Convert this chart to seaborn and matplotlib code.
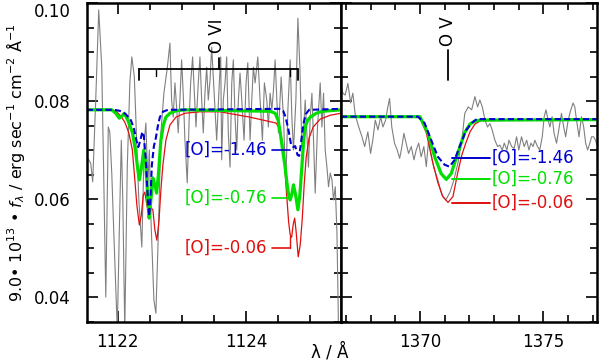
import matplotlib
matplotlib.use("Agg")
import matplotlib.pyplot as plt
import matplotlib.transforms as mtransforms
import seaborn as sns
from matplotlib.ticker import MultipleLocator

# ---- observed spectrum, O VI region ----
obs1_wl = [1121.516, 1121.547, 1121.578, 1121.609, 1121.656, 1121.703, 1121.750, 1121.781,
           1121.813, 1121.852, 1121.875, 1121.906, 1121.938, 1121.992, 1122.023, 1122.055,
           1122.078, 1122.109, 1122.148, 1122.188, 1122.219, 1122.258, 1122.281, 1122.328,
           1122.375, 1122.414, 1122.438, 1122.469, 1122.492, 1122.516, 1122.563, 1122.594,
           1122.633, 1122.672, 1122.719, 1122.773, 1122.813, 1122.839, 1122.864, 1122.891,
           1122.917, 1122.942, 1122.969, 1122.995, 1123.020, 1123.047, 1123.083, 1123.114,
           1123.136, 1123.167, 1123.198, 1123.219, 1123.255, 1123.281, 1123.308, 1123.333,
           1123.359, 1123.386, 1123.411, 1123.438, 1123.464, 1123.489, 1123.516, 1123.542,
           1123.583, 1123.605, 1123.620, 1123.645, 1123.672, 1123.698, 1123.723, 1123.750,
           1123.777, 1123.802, 1123.828, 1123.855, 1123.880, 1123.906, 1123.933, 1123.969,
           1124.000, 1124.027, 1124.063, 1124.089, 1124.114, 1124.141, 1124.183, 1124.219,
           1124.255, 1124.286, 1124.323, 1124.348, 1124.375, 1124.402, 1124.427, 1124.453,
           1124.480, 1124.505, 1124.547, 1124.583, 1124.620, 1124.652, 1124.688, 1124.714,
           1124.739, 1124.777, 1124.808, 1124.839, 1124.870, 1124.895, 1124.922, 1124.948,
           1124.973, 1125.000, 1125.027, 1125.052, 1125.078, 1125.114, 1125.156, 1125.183,
           1125.208, 1125.234, 1125.261, 1125.286, 1125.313, 1125.339, 1125.364, 1125.391,
           1125.417, 1125.442]
obs1_flux = [0.0686, 0.0680, 0.0673, 0.0635, 0.0802, 0.0986, 0.0869, 0.0645,
             0.0400, 0.0747, 0.0737, 0.0653, 0.0531, 0.0333, 0.0531, 0.0720,
             0.0598, 0.0333, 0.0665, 0.0837, 0.0890, 0.0849, 0.0767, 0.0598,
             0.0502, 0.0720, 0.0755, 0.0633, 0.0700, 0.0563, 0.0394, 0.0367,
             0.0531, 0.0735, 0.0816, 0.0869, 0.0918, 0.0802, 0.0767, 0.0837,
             0.0788, 0.0735, 0.0802, 0.0884, 0.0816, 0.0720, 0.0633, 0.0767,
             0.0837, 0.0890, 0.0802, 0.0747, 0.0837, 0.0890, 0.0802, 0.0735,
             0.0816, 0.0869, 0.0802, 0.0843, 0.0910, 0.0849, 0.0782, 0.0720,
             0.0837, 0.0890, 0.0680, 0.0802, 0.0837, 0.0890, 0.0735, 0.0665,
             0.0837, 0.0884, 0.0767, 0.0700, 0.0802, 0.0857, 0.0802, 0.0720,
             0.0837, 0.0878, 0.0720, 0.0802, 0.0869, 0.0837, 0.0890, 0.0802,
             0.0720, 0.0837, 0.0802, 0.0747, 0.0816, 0.0782, 0.0822, 0.0884,
             0.0802, 0.0735, 0.0849, 0.0767, 0.0633, 0.0782, 0.0884, 0.0767,
             0.0700, 0.0802, 0.0969, 0.0869, 0.0706, 0.0735, 0.0802, 0.0735,
             0.0665, 0.0767, 0.0816, 0.0720, 0.0612, 0.0747, 0.0837, 0.0747,
             0.0816, 0.0700, 0.0665, 0.0625, 0.0653, 0.0639, 0.0598, 0.0625,
             0.0531, 0.0333]

# ---- models, O VI region ----
red1_wl = [1121.516, 1121.906, 1121.984, 1122.047, 1122.109, 1122.172, 1122.227, 1122.266,
           1122.297, 1122.336, 1122.367, 1122.398, 1122.422, 1122.453, 1122.484, 1122.516,
           1122.547, 1122.578, 1122.609, 1122.641, 1122.672, 1122.703, 1122.750, 1122.813,
           1122.906, 1123.047, 1123.281, 1123.594, 1124.063, 1124.469, 1124.516, 1124.563,
           1124.602, 1124.633, 1124.664, 1124.688, 1124.711, 1124.734, 1124.758, 1124.781,
           1124.813, 1124.844, 1124.875, 1124.906, 1124.938, 1124.984, 1125.047, 1125.156,
           1125.313, 1125.484]
red1_flux = [0.0782, 0.0782, 0.0778, 0.0769, 0.0757, 0.0735, 0.0700, 0.0639,
             0.0588, 0.0547, 0.0567, 0.0608, 0.0614, 0.0588, 0.0567, 0.0582,
             0.0578, 0.0537, 0.0516, 0.0553, 0.0618, 0.0669, 0.0720, 0.0751,
             0.0767, 0.0775, 0.0778, 0.0778, 0.0767, 0.0755, 0.0745, 0.0720,
             0.0669, 0.0608, 0.0553, 0.0527, 0.0522, 0.0547, 0.0561, 0.0533,
             0.0482, 0.0506, 0.0557, 0.0629, 0.0686, 0.0725, 0.0747, 0.0763,
             0.0771, 0.0775]

green1_wl = [1121.516, 1121.906, 1121.969, 1122.023, 1122.063, 1122.102, 1122.156, 1122.230,
             1122.281, 1122.313, 1122.336, 1122.367, 1122.406, 1122.438, 1122.469, 1122.489,
             1122.516, 1122.547, 1122.578, 1122.605, 1122.633, 1122.672, 1122.711, 1122.750,
             1122.813, 1122.906, 1123.047, 1124.375, 1124.453, 1124.500, 1124.531, 1124.570,
             1124.609, 1124.641, 1124.664, 1124.688, 1124.711, 1124.739, 1124.773, 1124.808,
             1124.839, 1124.870, 1124.898, 1124.922, 1124.961, 1125.000, 1125.094, 1125.188,
             1125.484]
green1_flux = [0.0782, 0.0782, 0.0775, 0.0765, 0.0769, 0.0775, 0.0761, 0.0735,
               0.0694, 0.0659, 0.0639, 0.0663, 0.0700, 0.0669, 0.0598, 0.0561,
               0.0598, 0.0643, 0.0629, 0.0612, 0.0649, 0.0720, 0.0751, 0.0767,
               0.0775, 0.0780, 0.0782, 0.0779, 0.0775, 0.0761, 0.0737, 0.0700,
               0.0665, 0.0629, 0.0608, 0.0598, 0.0608, 0.0629, 0.0608, 0.0578,
               0.0608, 0.0665, 0.0720, 0.0747, 0.0761, 0.0767, 0.0775, 0.0779,
               0.0782]

blue1_wl = [1121.516, 1121.938, 1122.031, 1122.125, 1122.203, 1122.250, 1122.289, 1122.320,
            1122.352, 1122.383, 1122.406, 1122.438, 1122.469, 1122.489, 1122.508, 1122.531,
            1122.563, 1122.594, 1122.625, 1122.656, 1122.703, 1122.781, 1124.516, 1124.578,
            1124.617, 1124.661, 1124.703, 1124.739, 1124.766, 1124.802, 1124.828, 1124.852,
            1124.891, 1124.930, 1124.984, 1125.484]
blue1_flux = [0.0782, 0.0782, 0.0780, 0.0773, 0.0761, 0.0745, 0.0720, 0.0706,
              0.0720, 0.0737, 0.0729, 0.0680, 0.0598, 0.0565, 0.0598, 0.0669,
              0.0708, 0.0725, 0.0749, 0.0767, 0.0778, 0.0782, 0.0784, 0.0780,
              0.0767, 0.0741, 0.0710, 0.0706, 0.0708, 0.0690, 0.0688, 0.0710,
              0.0751, 0.0773, 0.0782, 0.0784]

# ---- observed spectrum, O V region ----
obs2_wl = [1366.80, 1366.88, 1366.97, 1367.08, 1367.19, 1367.28, 1367.38, 1367.52,
           1367.65, 1367.76, 1367.89, 1368.00, 1368.09, 1368.19, 1368.30, 1368.41,
           1368.50, 1368.61, 1368.70, 1368.77, 1368.86, 1368.97, 1369.08, 1369.18,
           1369.27, 1369.35, 1369.44, 1369.54, 1369.65, 1369.76, 1369.85, 1369.95,
           1370.05, 1370.16, 1370.26, 1370.35, 1370.45, 1370.57, 1370.73, 1370.89,
           1371.05, 1371.22, 1371.38, 1371.54, 1371.70, 1371.82, 1371.96, 1372.10,
           1372.23, 1372.34, 1372.43, 1372.53, 1372.64, 1372.74, 1372.84, 1372.93,
           1373.04, 1373.15, 1373.24, 1373.34, 1373.42, 1373.53, 1373.61, 1373.72,
           1373.82, 1373.92, 1374.01, 1374.12, 1374.23, 1374.33, 1374.42, 1374.50,
           1374.59, 1374.66, 1374.77, 1374.86, 1374.96, 1375.04, 1375.11, 1375.20,
           1375.27, 1375.36, 1375.44, 1375.54, 1375.63, 1375.74, 1375.83, 1375.91,
           1376.01, 1376.12, 1376.21, 1376.28, 1376.35, 1376.45, 1376.55, 1376.64,
           1376.72, 1376.80, 1376.89, 1376.96, 1377.04, 1377.12, 1377.18]
obs2_flux = [0.0829, 0.0816, 0.0812, 0.0836, 0.0796, 0.0816, 0.0771, 0.0747,
             0.0727, 0.0707, 0.0737, 0.0693, 0.0720, 0.0761, 0.0741, 0.0768,
             0.0747, 0.0761, 0.0788, 0.0805, 0.0747, 0.0714, 0.0700, 0.0683,
             0.0707, 0.0734, 0.0714, 0.0693, 0.0707, 0.0680, 0.0700, 0.0714,
             0.0686, 0.0707, 0.0666, 0.0720, 0.0690, 0.0663, 0.0639, 0.0608,
             0.0598, 0.0614, 0.0639, 0.0673, 0.0720, 0.0775, 0.0788, 0.0782,
             0.0809, 0.0788, 0.0802, 0.0788, 0.0761, 0.0747, 0.0754, 0.0741,
             0.0720, 0.0707, 0.0710, 0.0700, 0.0714, 0.0700, 0.0720, 0.0707,
             0.0703, 0.0727, 0.0700, 0.0727, 0.0707, 0.0720, 0.0700, 0.0714,
             0.0707, 0.0720, 0.0707, 0.0700, 0.0727, 0.0768, 0.0782, 0.0761,
             0.0747, 0.0768, 0.0734, 0.0714, 0.0741, 0.0775, 0.0747, 0.0727,
             0.0761, 0.0782, 0.0796, 0.0788, 0.0761, 0.0727, 0.0768, 0.0747,
             0.0714, 0.0700, 0.0714, 0.0727, 0.0727, 0.0720, 0.0710]

# ---- models, O V region ----
red2_wl = [1366.80, 1369.99, 1370.26, 1370.53, 1370.73, 1370.93, 1371.14, 1371.34,
           1371.54, 1371.70, 1371.86, 1372.03, 1372.23, 1372.47, 1377.17]
red2_flux = [0.0768, 0.0767, 0.0735, 0.0673, 0.0633, 0.0605, 0.0593, 0.0605,
             0.0655, 0.0690, 0.0714, 0.0737, 0.0753, 0.0760, 0.0762]
green2_wl = [1366.80, 1370.00, 1370.32, 1370.60, 1370.86, 1371.07, 1371.27, 1371.54,
             1371.81, 1372.03, 1372.23, 1372.47, 1377.17]
green2_flux = [0.0768, 0.0768, 0.0735, 0.0686, 0.0652, 0.0640, 0.0652, 0.0694,
               0.0735, 0.0753, 0.0759, 0.0761, 0.0762]
blue2_wl = [1366.80, 1369.92, 1370.19, 1370.46, 1370.73, 1371.00, 1371.20, 1371.41,
            1371.61, 1371.88, 1372.10, 1372.30, 1377.17]
blue2_flux = [0.0768, 0.0768, 0.0755, 0.0720, 0.0686, 0.0670, 0.0666, 0.0680,
              0.0707, 0.0741, 0.0755, 0.0763, 0.0763]

abund_labels = ["[O]=-1.46", "[O]=-0.76", "[O]=-0.06"]
label_y1 = [0.0700, 0.0602, 0.0500]
label_y2 = [0.0684, 0.0641, 0.0592]

C_RED, C_GREEN, C_BLUE, C_GREY = "#e01010", "#00e000", "#0000d0", "#808080"
model_colors = [C_BLUE, C_GREEN, C_RED]

sns.set_style("ticks", {"axes.edgecolor": "black", "xtick.color": "black",
                        "ytick.color": "black", "text.color": "black",
                        "axes.labelcolor": "black"})
plt.rcParams["font.family"] = ["DejaVu Sans"]
plt.rcParams["mathtext.fontset"] = "dejavusans"

fig = plt.figure(figsize=(6.0, 3.62), dpi=100)
ax1 = fig.add_axes([0.145, 0.1105, 0.4233, 0.8812])
ax2 = fig.add_axes([0.5683, 0.1105, 0.4267, 0.8812], sharey=ax1)

def draw(ax, obs, red, green, blue):
    sns.lineplot(x=obs[0], y=obs[1], ax=ax, color=C_GREY, lw=0.8, sort=False, estimator=None)
    sns.lineplot(x=red[0], y=red[1], ax=ax, color=C_RED, lw=0.9, sort=False, estimator=None)
    sns.lineplot(x=green[0], y=green[1], ax=ax, color=C_GREEN, lw=2.3, sort=False, estimator=None)
    sns.lineplot(x=blue[0], y=blue[1], ax=ax, color=C_BLUE, lw=1.5, sort=False,
                 estimator=None, linestyle=(0, (3, 1.5)))

draw(ax1, (obs1_wl, obs1_flux), (red1_wl, red1_flux), (green1_wl, green1_flux), (blue1_wl, blue1_flux))
draw(ax2, (obs2_wl, obs2_flux), (red2_wl, red2_flux), (green2_wl, green2_flux), (blue2_wl, blue2_flux))

ax1.set_xlim(1121.52, 1125.48)
ax2.set_xlim(1366.8, 1377.18)
ax1.set_ylim(0.0349, 0.1000)

for ax in (ax1, ax2):
    ax.tick_params(which="both", direction="in", top=True, right=True, width=1.2,
                   labelsize=12, pad=8, colors="black")
    ax.tick_params(which="major", length=8)
    ax.tick_params(which="minor", length=5)
    ax.yaxis.set_major_locator(MultipleLocator(0.02))
    ax.yaxis.set_minor_locator(MultipleLocator(0.005))
    for s in ax.spines.values():
        s.set_linewidth(1.8)
        s.set_color("black")
    ax.set_xlabel("")
    ax.set_ylabel("")
ax1.tick_params(axis="y", pad=12)
ax1.xaxis.set_major_locator(MultipleLocator(2))
ax1.xaxis.set_minor_locator(MultipleLocator(0.5))
ax2.xaxis.set_major_locator(MultipleLocator(5))
ax2.xaxis.set_minor_locator(MultipleLocator(1))
ax1.yaxis.set_major_formatter(plt.FuncFormatter(lambda v, p: f"{v:.2f}"))
plt.setp(ax2.get_yticklabels(), visible=False)

fig.canvas.draw()
# top tick label sits a little below its tick, as in the original
for lab in ax1.get_yticklabels():
    if lab.get_text() == "0.10":
        lab.set_transform(lab.get_transform() +
                          mtransforms.ScaledTranslation(0, -7 / 100, fig.dpi_scale_trans))

ax1.set_ylabel("9.0• 10$^{13}$ • $f_\\lambda$ / erg sec$^{-1}$ cm$^{-2}$ Å$^{-1}$",
               fontsize=11.5, color="black")
ax1.yaxis.set_label_coords(-0.235, 0.5)
fig.text(0.55, 0.028, "λ / Å", fontsize=12, ha="center", va="center", color="black")

# O VI doublet marker
ovi_ends = [1122.33, 1124.81]
ovi_inner = [1122.59, 1124.68]
ovi_mid = 1123.58
ax1.plot(ovi_ends, [0.0865, 0.0865], color="k", lw=1.3)
for xv in ovi_ends:
    ax1.plot([xv, xv], [0.0865, 0.0843], color="k", lw=1.3)
for xv in ovi_inner:
    ax1.plot([xv, xv], [0.0865, 0.0852], color="k", lw=1.0)
ax1.plot([ovi_mid, ovi_mid], [0.0865, 0.0888], color="k", lw=1.3)
ax1.text(ovi_mid - 0.03, 0.0897, "O VI", rotation=90, fontsize=12, ha="center",
         va="bottom", color="black")

# O V marker
ov_x = 1371.12
ax2.plot([ov_x, ov_x], [0.0904, 0.0843], color="k", lw=1.3)
ax2.text(ov_x, 0.0912, "O V", rotation=90, fontsize=12, ha="center", va="bottom",
         color="black")

# labels, left panel
for lab, yv, col in zip(abund_labels, label_y1, model_colors):
    ax1.text(1124.33, yv, lab, color=col, fontsize=12, ha="right", va="center")
    ax1.plot([1124.40, 1124.69], [yv, yv], color=col, lw=1.2)
ax1.plot([1124.69, 1124.69], [label_y1[2], 0.0524], color=C_RED, lw=1.0)

# labels, right panel
for lab, yv, col in zip(abund_labels, label_y2, model_colors):
    ax2.text(1372.92, yv, lab, color=col, fontsize=12, ha="left", va="center")
    ax2.plot([1371.32, 1372.86], [yv, yv], color=col, lw=1.4)

fig.savefig("out.png", dpi=100)
